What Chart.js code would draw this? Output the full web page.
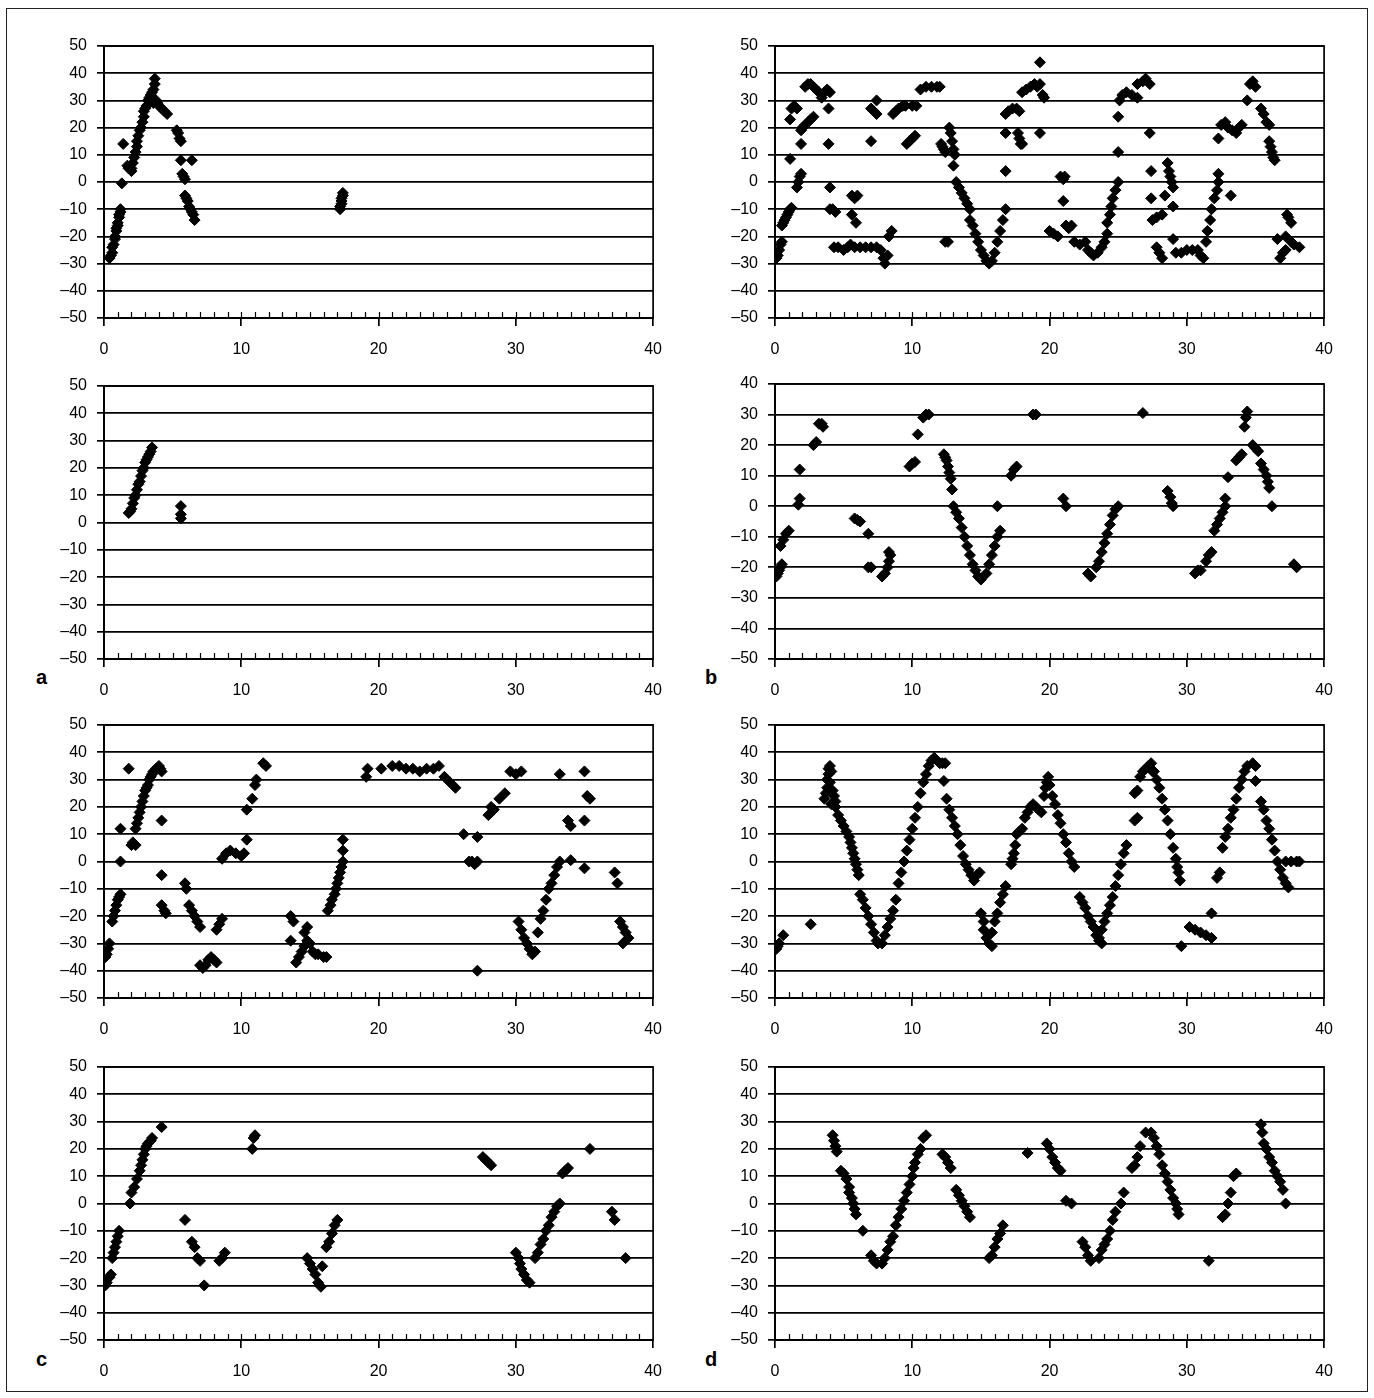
<!DOCTYPE html>
<html>
<head>
<meta charset="utf-8">
<script src="https://cdn.jsdelivr.net/npm/chart.js@4.4.1/dist/chart.umd.min.js"></script>
<style>
  body { margin: 0; background: #fff; width: 1374px; height: 1398px; position: relative; overflow: hidden; }
  #frame { position: absolute; left: 6px; top: 8px; width: 1362px; height: 1384px; border: 1.5px solid #222; box-sizing: border-box; }
  canvas { position: absolute; }
  .tag { position: absolute; font: bold 20px "Liberation Sans", Arial, sans-serif; color: #000; }
</style>
</head>
<body>
<div id="frame"></div>
<div class="tag" style="left:36px;top:666px">a</div>
<div class="tag" style="left:705px;top:666px">b</div>
<div class="tag" style="left:36px;top:1348px">c</div>
<div class="tag" style="left:705px;top:1348px">d</div>

<canvas id="a1"></canvas>
<canvas id="b1"></canvas>
<canvas id="a2"></canvas>
<canvas id="b2"></canvas>
<canvas id="c1"></canvas>
<canvas id="c2"></canvas>
<canvas id="d1"></canvas>
<canvas id="d2"></canvas>

<script>
// --- data (x = 0..40, y in degrees-ish) ---

// row 1, left
const a1X = [0.4, 0.5, 0.6, 0.6, 0.7, 0.8, 0.8, 0.9, 0.9, 1.0, 1.0, 1.1, 1.1, 1.2, 1.2,
  1.3, 1.4,
  1.7, 1.8, 2.0, 2.0, 2.1, 2.2, 2.3, 2.4, 2.4, 2.5, 2.6, 2.7, 2.8, 2.9, 2.9, 3.0, 3.1, 3.2, 3.3, 3.4, 3.5, 3.5, 3.6, 3.6, 3.7, 3.7,
  3.8, 3.9, 4.0, 4.2, 4.4, 4.6,
  5.3, 5.4, 5.5, 5.6, 5.6, 5.7, 5.8, 5.9, 5.9, 6.0, 6.1, 6.2, 6.3, 6.4, 6.5, 6.6, 6.4,
  17.2, 17.2, 17.3, 17.3, 17.3, 17.4, 17.4];
const a1Y = [-28, -27, -26, -24, -23, -21, -20, -18, -17, -16, -15, -13, -12, -11, -10,
  -0.5, 14,
  6, 5, 4, 5, 7, 9, 11, 13, 15, 17, 19, 20, 22, 24, 26, 27, 28, 30, 31, 32, 33, 30, 34, 29, 36, 38,
  30, 29, 28, 27, 26, 25,
  19, 18, 16, 15, 8, 3, 2, 1, -5, -6, -7, -9, -10, -11, -12, -14, 8,
  -10, -9, -8, -7, -6, -5, -4];

// row 1, right
const b1X = [0.1, 0.2, 0.3, 0.4, 0.5,
  0.5, 0.6, 0.7, 0.8, 0.9, 1.0, 1.1, 1.2,
  1.1, 1.1, 1.2, 1.4, 1.6,
  1.6, 1.7, 1.8, 1.9, 1.9,
  1.9, 2.0, 2.2, 2.4, 2.6, 2.8,
  2.2, 2.4, 2.6, 2.8, 3.0, 3.2, 3.4, 3.6, 3.8, 4.0,
  3.9, 3.9, 4.0, 4.0, 4.2, 4.4,
  4.3, 4.6, 5.0, 5.3,
  5.6, 5.9, 5.6, 5.8, 6.0,
  5.5, 5.8, 6.2, 6.6, 7.0, 7.4,
  7.0, 7.0, 7.2, 7.4, 7.4,
  7.7, 7.9, 8.0, 8.2, 8.3, 8.5,
  8.6, 8.8, 9.0, 9.3, 9.5,
  9.6, 9.8, 10.0, 10.2,
  10.0, 10.3, 10.6, 11.0, 11.4, 11.8, 12.0,
  12.1, 12.2, 12.3, 12.4, 12.4, 12.6,
  12.7, 12.8, 12.9, 13.0, 13.1, 13.0,
  13.2, 13.4, 13.6, 13.8, 14.0, 14.2, 14.2, 14.4, 14.6, 14.8, 15.0, 15.2, 15.4, 15.6,
  15.8, 16.0, 16.2, 16.4, 16.6, 16.8,
  16.8, 16.8, 16.8, 17.0, 17.3, 17.6, 17.8,
  17.7, 17.8, 17.9, 18.0,
  18.0, 18.3, 18.6, 18.9, 19.1, 19.3, 19.3, 19.3, 19.5, 19.6,
  20.0, 20.3, 20.6, 20.8, 21.0, 21.1, 21.0,
  21.2, 21.4, 21.6, 21.8, 22.2, 22.6,
  22.8, 23.0, 23.2, 23.5, 23.8, 24.0, 24.2,
  24.2, 24.4, 24.5, 24.6, 24.8, 25.0, 25.0, 25.0,
  25.1, 25.3, 25.6, 26.0, 26.4, 26.4, 26.8, 27.0, 27.3,
  27.3, 27.4, 27.4, 27.5, 27.8, 28.2,
  27.8, 28.0, 28.2, 28.4,
  28.6, 28.7, 28.8, 28.9, 29.0, 29.0, 29.0,
  29.2, 29.6, 30.0, 30.4, 30.8, 31.0, 31.2,
  31.4, 31.5, 31.7, 31.8, 32.0, 32.2, 32.3, 32.3, 32.3,
  32.5, 32.8, 33.0, 33.3, 33.6, 33.8, 34.0, 33.2,
  34.4, 34.6, 34.8, 35.0,
  35.4, 35.6, 35.8, 36.0, 36.0, 36.1, 36.2, 36.3, 36.4,
  36.6, 36.8, 37.0, 37.2, 37.2, 37.3, 37.4, 37.6,
  37.6, 37.8, 38.2];
const b1Y = [-28, -27, -25, -23, -22,
  -16, -15, -14, -13, -12, -11, -10, -9.5,
  8.5, 23, 27, 28, 27,
  -2, 0, 2, 3, 14,
  19, 20, 21, 22, 23, 24,
  35, 36, 36, 35, 34, 33, 31, 33, 34, 33,
  27, 14, -2, -10, -10, -11,
  -24, -24, -25, -24,
  -12, -15, -5, -6, -5,
  -23, -24, -24, -24, -24, -24,
  15, 27, 26, 25, 30,
  -25, -28, -30, -27, -20, -18,
  25, 26, 27, 28, 28,
  14, 15, 16, 17,
  28, 28, 34, 35, 35, 35, 35,
  14, 13, 12, 11, -22, -22,
  20, 18, 15, 12, 10, 6,
  0, -2, -4, -6, -8, -10, -14, -16, -19, -22, -25, -27, -29, -30,
  -29, -26, -22, -18, -14, -10,
  4, 18, 25, 26, 27, 27, 26,
  18, 16, 14, 14,
  33, 34, 35, 36, 35, 36, 44, 18, 32, 31,
  -18, -19, -20, 2, 1, 2, -7,
  -16, -17, -16, -22, -23, -22,
  -25, -26, -27, -26, -24, -22, -19,
  -15, -12, -9, -6, -3, 0, 11, 24,
  30, 32, 33, 32, 31, 36, 37, 38, 36,
  18, 4, -6, -14, -13, -12,
  -24, -26, -28, -5,
  7, 4, 2, 0, -2, -9, -21,
  -26, -26, -25, -25, -25, -27, -28,
  -22, -18, -14, -10, -6, -3, 0, 3, 16,
  21, 22, 20, 19, 18, 20, 21, -5,
  30, 36, 37, 35,
  27, 25, 22, 21, 15, 13, 11, 9, 8,
  -21, -28, -26, -25, -20, -12, -13, -15,
  -22, -23, -24];

// row 2, left (a)
const a2X = [1.8, 1.9, 2.0, 2.1, 2.2, 2.3, 2.4, 2.5, 2.6, 2.7, 2.8, 2.9, 3.0, 3.1, 3.2, 3.3, 3.4, 3.5,
  5.6, 5.6, 5.6];
const a2Y = [3.5, 4, 5, 7, 9, 10, 12, 14, 15, 17, 19, 20, 22, 23, 24, 25, 26, 27.5,
  6, 3, 1.5];

// row 2, right (b)
const b2X = [0.1, 0.2, 0.3, 0.4, 0.5,
  0.4, 0.6, 0.8, 1.0,
  1.7, 1.8, 1.8,
  2.8, 3.0, 3.2, 3.4, 3.5,
  5.8, 6.0, 6.2, 6.8,
  6.8, 7.0,
  7.8, 8.0, 8.2, 8.3, 8.4, 8.3,
  9.8, 10.0, 10.2, 10.4, 10.8, 11.0, 11.2,
  12.3, 12.4, 12.5, 12.6, 12.7, 12.8, 12.9,
  13.0, 13.2, 13.4, 13.6, 13.8, 14.0, 14.2, 14.4, 14.6, 14.8, 15.0,
  15.4, 15.6, 15.8, 16.0, 16.2, 16.4,
  16.2, 17.2, 17.4, 17.6,
  18.8, 19.0, 21.0, 21.2,
  22.8, 23.0,
  23.4, 23.6, 23.8, 24.0, 24.2, 24.4, 24.6, 24.8, 25.0,
  26.8, 28.6, 28.8, 28.9, 29.0,
  30.6, 30.8, 31.0, 31.4, 31.6, 31.8,
  32.0, 32.2, 32.4, 32.6, 32.8, 32.8, 33.0,
  33.6, 33.8, 34.0, 34.2, 34.3, 34.4,
  34.8, 35.0, 35.2, 35.4, 35.6, 35.8, 35.9, 36.0, 36.2,
  37.8, 38.0];
const b2Y = [-23, -22, -21, -20, -19,
  -13, -11, -9, -8,
  0.5, 2.5, 12,
  20, 21, 27, 27, 26,
  -4, -4.5, -5, -9,
  -20, -20,
  -23, -22, -20, -18, -16, -15,
  13, 14, 14.5, 23.5, 29, 30, 30,
  17, 16, 15, 13, 11, 9, 5.5,
  0, -2, -4, -7, -10, -13, -16, -19, -21, -23, -24,
  -22, -19, -16, -13, -10, -8,
  0, 10, 12, 13,
  30, 30, 2.5, 0,
  -22, -23,
  -20, -18, -15, -12, -9, -6, -3, -1, 0,
  30.5, 5, 3, 1, 0,
  -22, -21, -21, -18, -16, -15,
  -8, -6, -4, -2, 0, 2.5, 9.5,
  15, 16, 17, 26, 29, 31,
  20, 19, 18, 14, 12, 10, 8, 6, 0,
  -19, -20];

// row 3, left
const c1X = [0.1, 0.2, 0.3, 0.4,
  0.6, 0.7, 0.8, 0.9, 1.0, 1.1, 1.2,
  1.2, 1.2, 1.8, 2.0, 2.1, 2.3,
  2.3, 2.4, 2.5, 2.6, 2.7, 2.8, 2.9, 3.0, 3.1, 3.2, 3.3, 3.4, 3.5, 3.6, 3.8, 4.0, 4.1, 4.2,
  4.2, 4.2, 4.2, 4.4, 4.5,
  5.9, 6.0, 6.2, 6.4, 6.6, 6.8, 7.0,
  7.0, 7.2, 7.4, 7.6, 7.8, 8.0, 8.2,
  8.2, 8.4, 8.6,
  8.6, 8.9, 9.2, 9.6, 10.0, 10.2, 10.4, 10.4,
  10.8, 11.0, 11.1, 11.6, 11.8,
  13.6, 13.8, 13.6,
  14.0, 14.2, 14.4, 14.6, 14.8, 14.6, 14.8, 15.0, 15.2, 15.4, 15.6, 16.0, 16.2,
  16.3, 16.5, 16.6, 16.8, 16.9, 17.0, 17.1, 17.2, 17.3, 17.4, 17.4, 17.4,
  19.1, 19.2, 20.2,
  21.0, 21.5, 22.0, 22.5, 23.0, 23.5, 24.0, 24.4,
  24.8, 25.2, 25.6,
  26.2, 26.6, 26.8, 27.0, 27.2, 27.2, 27.2,
  28.0, 28.2, 28.4, 28.8, 29.2, 29.6, 30.0, 30.4,
  30.2, 30.4, 30.6, 30.8, 31.0, 31.2, 31.4,
  31.6, 31.8, 32.0, 32.2, 32.4, 32.6, 32.8, 33.0, 33.2,
  33.8, 34.0, 33.2, 34.0, 35.0, 35.0, 35.2, 35.4, 35.0,
  37.2, 37.4, 37.6, 37.8, 38.0, 38.2, 37.8];
const c1Y = [-35, -34, -32, -30,
  -22, -20, -18, -16, -14, -13, -12,
  0, 12, 34, 6, 7, 6,
  12, 14, 16, 18, 20, 22, 24, 26, 27, 28, 30, 31, 32, 33, 34, 35, 34, 33,
  15, -5, -16, -18, -19,
  -8, -10, -16, -18, -20, -22, -24,
  -38, -39, -38, -36, -35, -36, -37,
  -25, -23, -21,
  1, 3, 4, 3, 2, 3, 8, 19,
  23, 28, 30, 36, 35,
  -20, -22, -29,
  -37, -35, -33, -31, -29, -26, -24, -30, -33, -34, -34, -35, -35,
  -18, -16, -14, -12, -10, -8, -6, -4, -2, 0, 4, 8,
  31, 34, 34,
  35, 35, 34, 34, 33, 34, 34, 35,
  31, 29, 27,
  10, 0, 0, -1, 0, 9, -40,
  17, 20, 19, 23, 25, 33, 32, 33,
  -22, -25, -28, -30, -32, -34, -33,
  -26, -21, -18, -14, -10, -8, -5, -2, 0,
  15, 13, 32, 0.5, 33, 15, 24, 23, -2.5,
  -4, -8, -22, -24, -26, -28, -30];

// row 3, right
const c2X = [0.1, 0.2, 0.3, 0.6, 2.6,
  3.6, 3.7, 3.8, 3.8, 3.9, 3.9, 4.0, 4.1, 4.0, 4.2, 4.3, 4.4, 4.1,
  4.4, 4.6, 4.8, 5.0, 5.2, 5.4, 5.5,
  5.6, 5.7, 5.8, 5.9, 6.0, 6.1,
  6.2, 6.4, 6.6, 6.8, 7.0, 7.2, 7.4, 7.5,
  7.8, 8.0, 8.2, 8.4, 8.6, 8.8, 9.0, 9.2, 9.4, 9.6, 9.8, 10.0, 10.2, 10.4, 10.6, 10.8, 11.0, 11.2, 11.4, 11.6, 11.8, 12.0, 12.2, 12.4,
  12.3,
  12.5, 12.7, 12.9, 13.1, 13.3, 13.5, 13.7, 13.9, 14.1, 14.3, 14.5, 14.7, 14.9,
  15.0, 15.2, 15.2, 15.4, 15.6, 15.8,
  15.8, 16.0, 16.2, 16.4, 16.6, 16.8,
  17.2, 17.3, 17.4, 17.5, 17.6, 17.8, 18.0, 18.2, 18.4, 18.6, 18.8, 19.0, 19.2, 19.4,
  19.6, 19.7, 19.8, 19.9, 20.0, 20.2, 20.4, 20.6, 20.8, 21.0, 21.2, 21.4, 21.6, 21.8,
  22.2, 22.4, 22.6, 22.8, 23.0, 23.2, 23.4, 23.6, 23.8,
  23.6, 23.8, 24.0, 24.2, 24.4, 24.6, 24.8, 25.0, 25.2, 25.4, 25.6,
  26.2, 26.4, 26.2, 26.4,
  26.6, 26.8, 27.0, 27.2, 27.4, 27.5,
  27.6, 27.8, 28.0, 28.2, 28.4, 28.6, 28.8, 29.0, 29.2, 29.3, 29.4, 29.5,
  29.6, 30.2, 30.6, 31.0, 31.4, 31.8, 31.8,
  32.2, 32.4, 32.6, 32.8, 33.0, 33.2, 33.4, 33.6, 33.8, 34.0, 34.2, 34.4, 34.8, 35.0, 35.0,
  35.4, 35.6, 35.8, 36.0, 36.2, 36.4, 36.6, 36.8, 37.0, 37.2, 37.4, 37.2, 37.6, 38.0, 38.2];
const c2Y = [-32, -31, -30, -27, -23,
  23, 25, 27, 30, 32, 34, 35, 33, 29, 26, 24, 22, 21,
  20, 17, 15, 13, 11, 9, 7,
  5, 3, 1, -1, -3, -5,
  -12, -14, -17, -20, -23, -26, -29, -30,
  -30, -27, -24, -21, -18, -14, -8, -4, 0, 4, 8, 12, 16, 20, 25, 29, 32, 35, 37, 38, 37, 36, 36, 36,
  29.5,
  23, 19, 16, 13, 10, 6, 2, -1, -3, -5, -7, -5, -4,
  -19, -22, -25, -28, -30, -31,
  -26, -22, -19, -15, -12, -9,
  -1, 1, 3, 6, 10, 11, 12, 16, 18, 20, 21, 20, 19, 18,
  24, 27, 29, 31, 28, 24, 21, 17, 14, 10, 7, 3, 0, -2,
  -13, -15, -17, -20, -22, -24, -27, -29, -30,
  -28, -25, -22, -19, -16, -13, -9, -5, -1, 3, 6,
  15, 16, 25, 26,
  31, 33, 34, 35, 36, 33,
  33, 30, 27, 23, 19, 15, 10, 5, 1, -2, -4, -7,
  -31, -24, -25, -26, -27, -28, -19,
  -6, -4, 5, 9, 12, 16, 19, 23, 27, 30, 33, 35, 36, 35, 29.5,
  22, 19, 15, 12, 8, 4, 0, -3, -6, -8, -9.5, 0, 0, 0, 0];

// row 4, left (c)
const d1X = [0.1, 0.2, 0.4, 0.5,
  0.6, 0.7, 0.8, 0.9, 1.0, 1.1,
  1.9, 2.0, 2.2, 2.4, 2.6, 2.7, 2.8, 2.9, 3.0, 3.1, 3.2, 3.4, 3.5, 4.2,
  5.9, 6.4, 6.6, 6.8, 7.0, 7.3,
  8.4, 8.6, 8.8,
  10.8, 10.9, 11.0,
  14.8, 15.0, 15.2, 15.4, 15.6, 15.8, 15.9,
  16.2, 16.4, 16.6, 16.8, 17.0,
  27.6, 27.8, 28.0, 28.2,
  30.0, 30.2, 30.3, 30.4, 30.6, 30.8, 31.0,
  31.4, 31.6, 31.8, 32.0, 32.2, 32.4, 32.6, 32.8, 33.0, 33.2,
  33.4, 33.6, 33.8, 35.4, 37.0, 37.2, 38.0];
const d1Y = [-30, -29, -27, -26,
  -20, -18, -16, -14, -12, -10,
  0, 4, 6, 9, 12, 14, 16, 18, 20, 21, 22, 23, 24, 28,
  -6, -14, -16, -20, -21, -30,
  -21, -20, -18,
  20, 24, 25,
  -20, -22, -24, -26, -29, -30.5, -23,
  -16, -14, -11, -8, -6,
  17, 16, 15, 14,
  -18, -20, -22, -24, -26, -28, -29,
  -20, -18, -15, -13, -10, -8, -5, -3, -1, 0,
  11, 12, 13, 20, -3, -6, -20];

// row 4, right (d)
const d2X = [4.2, 4.3, 4.4, 4.5,
  4.8, 5.0, 5.2, 5.4, 5.4,
  5.6, 5.7, 5.8, 5.9, 6.4,
  7.0, 7.2, 7.4,
  7.8, 8.0, 8.2, 8.4, 8.6,
  8.8, 9.0, 9.2, 9.4, 9.6, 9.8, 10.0,
  10.1, 10.2, 10.4, 10.6, 10.8, 11.0,
  12.2, 12.4, 12.6, 12.8,
  13.2, 13.4, 13.6, 13.8, 14.0, 14.2,
  15.6, 15.8, 16.0, 16.2, 16.4, 16.6,
  18.4,
  19.8, 20.0, 20.2, 20.4, 20.6, 20.8,
  21.2, 21.6,
  22.4, 22.6, 22.8, 23.0,
  23.6, 23.8, 24.0, 24.2, 24.4, 24.6, 24.8, 25.2, 25.4,
  26.0, 26.2, 26.4, 26.6,
  27.0, 27.4,
  27.6, 27.8, 28.0, 28.2, 28.4, 28.6, 28.8, 29.0, 29.2, 29.3, 29.4,
  31.6,
  32.6, 32.8, 33.0, 33.2, 33.4, 33.6,
  35.4, 35.5, 35.6, 35.8, 36.0, 36.2, 36.4, 36.6, 36.8, 37.0, 37.2];
const d2Y = [25, 23, 21, 19,
  12, 11, 9, 6, 4,
  2, 0, -2, -4, -10,
  -19, -21, -22,
  -22, -20, -17, -14, -12,
  -8, -5, -2, 1, 4, 7, 10,
  13, 15, 18, 20, 24, 25,
  18, 17, 15, 13,
  5, 3, 1, -1, -3, -5,
  -20, -19, -16, -13, -11, -8,
  18.5,
  22, 20, 17, 15, 13, 12,
  1, 0,
  -14, -16, -19, -21,
  -20, -17, -15, -13, -10, -6, -3, 0, 4,
  13, 14, 17, 21,
  26, 26,
  24, 21, 18, 14, 11, 8, 5, 2, 0, -2, -4,
  -21,
  -5, -4, 0, 4, 10, 11,
  29, 26, 22, 20, 17, 15, 12, 10, 8, 5, 0];

// --- layout of the eight panels (chart-area edges in page pixels) ---
const Y_AXIS_W = 60, PAD_TOP = 20, PAD_RIGHT = 22, X_AXIS_H = 52;
const panels = [
  { id: 'a1', xs: a1X, ys: a1Y, left: 104, top: 46, bottom: 318, yMax: 50 },
  { id: 'b1', xs: b1X, ys: b1Y, left: 775, top: 46, bottom: 318, yMax: 50 },
  { id: 'a2', xs: a2X, ys: a2Y, left: 104, top: 386, bottom: 659, yMax: 50 },
  { id: 'b2', xs: b2X, ys: b2Y, left: 775, top: 384, bottom: 659, yMax: 40 },
  { id: 'c1', xs: c1X, ys: c1Y, left: 104, top: 725, bottom: 998, yMax: 50 },
  { id: 'c2', xs: c2X, ys: c2Y, left: 775, top: 725, bottom: 998, yMax: 50 },
  { id: 'd1', xs: d1X, ys: d1Y, left: 104, top: 1067, bottom: 1340, yMax: 50 },
  { id: 'd2', xs: d2X, ys: d2Y, left: 775, top: 1067, bottom: 1340, yMax: 50 }
];
const AREA_W = 550;

// box around the plot area + small inward ticks every 1 unit on the x axis
const boxAndMinorTicks = {
  id: 'boxAndMinorTicks',
  beforeDatasetsDraw(chart) {
    const { ctx, chartArea: a, scales: { x } } = chart;
    ctx.save();
    ctx.strokeStyle = '#000';
    ctx.lineWidth = 1.7;
    ctx.strokeRect(a.left, a.top, a.right - a.left, a.bottom - a.top);
    ctx.lineWidth = 1.2;
    ctx.beginPath();
    for (let v = 1; v < 40; v++) {
      const px = Math.round(x.getPixelForValue(v)) + 0.5;
      ctx.moveTo(px, a.bottom);
      ctx.lineTo(px, a.bottom - 6);
    }
    ctx.stroke();
    ctx.restore();
  }
};

const tickFont = { family: '"Liberation Sans", Arial, sans-serif', size: 16 };
const dash = v => String(v).replace('-', '\u2013');

panels.forEach(p => {
  if (p.xs.length !== p.ys.length) console.warn('length mismatch', p.id, p.xs.length, p.ys.length);
  const cv = document.getElementById(p.id);
  const w = Y_AXIS_W + AREA_W + PAD_RIGHT;
  const h = PAD_TOP + (p.bottom - p.top) + X_AXIS_H;
  cv.width = w;
  cv.height = h;
  cv.style.left = (p.left - Y_AXIS_W) + 'px';
  cv.style.top = (p.top - PAD_TOP) + 'px';
  cv.style.width = w + 'px';
  cv.style.height = h + 'px';

  new Chart(cv, {
    type: 'scatter',
    data: {
      datasets: [{
        data: p.xs.map((x, i) => ({ x: x, y: p.ys[i] })),
        pointStyle: 'rectRot',
        pointRadius: 5.5,
        borderWidth: 1,
        backgroundColor: '#000',
        borderColor: '#000'
      }]
    },
    options: {
      responsive: false,
      animation: false,
      events: [],
      layout: { padding: { top: PAD_TOP, right: PAD_RIGHT, left: 0, bottom: 0 } },
      plugins: { legend: { display: false }, tooltip: { enabled: false } },
      scales: {
        x: {
          type: 'linear', min: 0, max: 40,
          afterFit: s => { s.height = X_AXIS_H; },
          ticks: { stepSize: 10, color: '#000', font: tickFont, padding: 14, maxRotation: 0 },
          grid: { drawOnChartArea: false, color: '#000', lineWidth: 1.7, tickLength: 8 },
          border: { color: '#000', width: 2 }
        },
        y: {
          min: -50, max: p.yMax,
          afterFit: s => { s.width = Y_AXIS_W; },
          ticks: { stepSize: 10, color: '#000', font: tickFont, padding: 10, callback: dash },
          grid: { color: '#000', lineWidth: 1.7, tickLength: 7 },
          border: { color: '#000', width: 2 }
        }
      }
    },
    plugins: [boxAndMinorTicks]
  });
});
</script>
</body>
</html>
